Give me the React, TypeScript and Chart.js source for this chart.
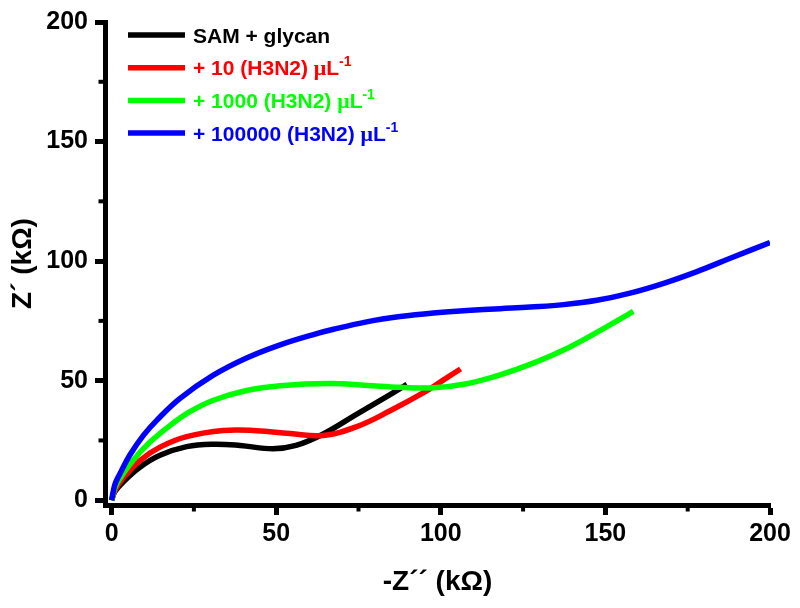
import React, { useEffect, useRef } from 'react';
import { Chart, registerables } from 'chart.js';

Chart.register(...registerables);

// ---- data (kΩ) ----
const samX = [0, 1, 3.5, 8.6, 14.7, 22.8, 30.9, 39, 49, 56, 64.3, 74.5, 84.6, 89.7];
const samY = [0, 3.6, 7.6, 13.8, 18.8, 22.4, 23.4, 22.9, 21.5, 22.9, 27.7, 36, 44.2, 48.5];

const h10X = [0, 1, 3.5, 8.6, 14.7, 22.8, 33.9, 44, 54.2, 64.3, 74.5, 84.6, 95.7, 100.5, 106];
const h10Y = [0, 4, 9.2, 16.6, 22.2, 26.6, 29.2, 29.1, 27.9, 27.1, 30.8, 37.4, 45.7, 50, 54.9];

const h1000X = [0, 1, 2.5, 6.6, 11.6, 17.7, 23.8, 30.9, 41, 51.2, 66.4, 77.5, 87.6, 97.8, 107.9, 118, 127.5, 137.3, 147.4, 158.5];
const h1000Y = [0, 5, 9, 16.8, 24.2, 31.2, 37, 41.8, 45.9, 47.9, 48.8, 48, 47.2, 47, 48.7, 52.4, 57, 62.8, 70.2, 79];

const h100000X = [0, 1, 2.5, 5.6, 9.6, 13.7, 20.7, 30.9, 41, 51.2, 61.3, 67.4, 77.5, 87.6, 97.8, 107.9, 118, 127.2, 137.3, 147.4, 157.5, 167.7, 177.8, 187.9, 200];
const h100000Y = [0, 6.5, 11, 19, 27, 33.4, 42.5, 52.3, 59.5, 65, 69.3, 71.5, 74.6, 76.8, 78.3, 79.3, 80.1, 80.8, 81.8, 83.6, 86.6, 90.7, 95.6, 101.2, 107.8];

const seriesLabels = ['SAM + glycan', '+ 10 (H3N2) ', '+ 1000 (H3N2) ', '+ 100000 (H3N2) '];
const seriesUnit = [false, true, true, true];
const seriesColors = ['#000000', '#ff0000', '#00ff00', '#0000ff'];

const xTickValues = [0, 50, 100, 150, 200];
const yTickValues = [0, 50, 100, 150, 200];
const xMinorTicks = [25, 75, 125, 175];
const yMinorTicks = [25, 75, 125, 175];

const xTitle = '-Z\u00B4\u00B4 (k\u03A9)';
const yTitle = 'Z\u00B4 (k\u03A9)';

const FONT = "'Liberation Sans', Arial, sans-serif";

function toPoints(xs: number[], ys: number[]) {
  return xs.map((x, i) => ({ x, y: ys[i] }));
}

const minorTickPlugin = {
  id: 'minorTicks',
  afterDraw(chart: any) {
    const { ctx, chartArea } = chart;
    const xs = chart.scales.x;
    const ys = chart.scales.y;
    ctx.save();
    ctx.strokeStyle = '#000';
    ctx.lineWidth = 4;
    ctx.lineCap = 'butt';
    xMinorTicks.forEach((v) => {
      const px = xs.getPixelForValue(v);
      ctx.beginPath();
      ctx.moveTo(px, chartArea.bottom);
      ctx.lineTo(px, chartArea.bottom + 6.5);
      ctx.stroke();
    });
    yMinorTicks.forEach((v) => {
      const py = ys.getPixelForValue(v);
      ctx.beginPath();
      ctx.moveTo(chartArea.left, py);
      ctx.lineTo(chartArea.left - 6.5, py);
      ctx.stroke();
    });
    ctx.restore();
  },
};

const legendPlugin = {
  id: 'customLegend',
  afterDraw(chart: any) {
    const { ctx } = chart;
    const lineX0 = 128;
    const lineX1 = 185;
    const textX = 193;
    const rowY0 = 35;
    const rowStep = 32.7;
    ctx.save();
    seriesLabels.forEach((label, i) => {
      const y = rowY0 + i * rowStep;
      const color = seriesColors[i];
      ctx.strokeStyle = color;
      ctx.lineWidth = 5.5;
      ctx.beginPath();
      ctx.moveTo(lineX0, y);
      ctx.lineTo(lineX1, y);
      ctx.stroke();
      ctx.fillStyle = color;
      ctx.textBaseline = 'alphabetic';
      ctx.textAlign = 'left';
      const base = y + 7.5;
      ctx.font = `bold 21px ${FONT}`;
      let x = textX;
      ctx.fillText(label, x, base);
      x += ctx.measureText(label).width;
      if (seriesUnit[i]) {
        ctx.font = `bold 22px 'Liberation Serif', serif`;
        ctx.fillText('\u03BC', x, base);
        x += ctx.measureText('\u03BC').width;
        ctx.font = `bold 21px ${FONT}`;
        ctx.fillText('L', x, base);
        x += ctx.measureText('L').width;
        ctx.font = `bold 14px ${FONT}`;
        ctx.fillText('-1', x, base - 9);
      }
    });
    ctx.restore();
  },
};

export default function App() {
  const canvasRef = useRef<HTMLCanvasElement | null>(null);

  useEffect(() => {
    document.body.style.margin = '0';
    const canvas = canvasRef.current;
    if (!canvas) return;

    const datasets = [
      { xs: samX, ys: samY },
      { xs: h10X, ys: h10Y },
      { xs: h1000X, ys: h1000Y },
      { xs: h100000X, ys: h100000Y },
    ].map((s, i) => ({
      label: seriesLabels[i],
      data: toPoints(s.xs, s.ys),
      borderColor: seriesColors[i],
      backgroundColor: seriesColors[i],
      borderWidth: 5.5,
      pointRadius: 0,
      showLine: true,
      fill: false,
      tension: 0.4,
      order: 4 - i,
    }));

    const chart = new Chart(canvas, {
      type: 'scatter',
      data: { datasets },
      options: {
        responsive: false,
        animation: false,
        layout: { padding: { left: 0, right: 30, top: 19, bottom: 0 } },
        plugins: {
          legend: { display: false },
          tooltip: { enabled: false },
        },
        scales: {
          x: {
            type: 'linear',
            min: -2,
            max: 200,
            afterBuildTicks: (scale: any) => {
              scale.ticks = xTickValues.map((v) => ({ value: v }));
            },
            afterFit: (scale: any) => {
              scale.height = 103;
            },
            grid: {
              display: true,
              drawOnChartArea: false,
              drawTicks: true,
              tickLength: 10,
              tickWidth: 5,
              tickColor: '#000',
              color: '#000',
            },
            border: { display: true, width: 5, color: '#000' },
            ticks: {
              color: '#000',
              font: { family: FONT, size: 25, weight: 'bold' },
              padding: 4,
              maxRotation: 0,
              autoSkip: false,
            },
            title: {
              display: true,
              text: xTitle,
              color: '#000',
              font: { family: FONT, size: 28, weight: 'bold' },
              padding: { top: 0, bottom: 9 },
            },
          },
          y: {
            type: 'linear',
            min: -2,
            max: 200,
            afterBuildTicks: (scale: any) => {
              scale.ticks = yTickValues.map((v) => ({ value: v }));
            },
            afterFit: (scale: any) => {
              scale.width = 105;
            },
            grid: {
              display: true,
              drawOnChartArea: false,
              drawTicks: true,
              tickLength: 10,
              tickWidth: 5,
              tickColor: '#000',
              color: '#000',
            },
            border: { display: true, width: 5, color: '#000' },
            ticks: {
              color: '#000',
              font: { family: FONT, size: 25, weight: 'bold' },
              padding: 7,
              autoSkip: false,
            },
            title: {
              display: true,
              text: yTitle,
              color: '#000',
              font: { family: FONT, size: 28, weight: 'bold' },
              padding: { top: 6, bottom: 0 },
            },
          },
        },
      },
      plugins: [minorTickPlugin, legendPlugin],
    });

    return () => {
      chart.destroy();
    };
  }, []);

  return (
    <div style={{ width: 800, height: 608, background: '#fff' }}>
      <canvas ref={canvasRef} width={800} height={608} style={{ display: 'block' }} />
    </div>
  );
}
